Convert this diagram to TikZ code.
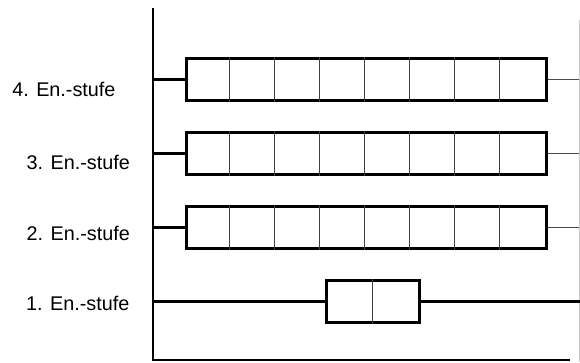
\documentclass[tikz,border=0pt]{standalone}
\usepackage{fontspec}
\setmainfont{Liberation Sans}
\begin{document}
\begin{tikzpicture}[x=1pt,y=-1pt,
  stage/.style={draw=black,line width=3pt,minimum height=42pt,inner sep=0pt,fill=white},
  cellline/.style={draw=black!75,line width=1.2pt},
  feed/.style={line width=2.5pt},
  tap/.style={draw=black!70,line width=1.3pt},
  axis/.style={line width=2.2pt},
  label/.style={anchor=base east,inner sep=0pt,font=\fontsize{19.8pt}{22pt}\selectfont}]
\useasboundingbox (0,0) rectangle (580,362);

% axes
\coordinate (top) at (153,8);
\coordinate (origin) at (153,360);
\coordinate (xend) at (570,360);
\coordinate (rtop) at (579,20);
\coordinate (rbot) at (579,362);
\draw[draw=black!22,line width=1pt] (rtop) -- (rbot);

% stages 2..4: eight cells each
\foreach \n/\y in {4/79.5,3/153.5,2/227.5}{
  \node[stage,minimum width=360pt] (b\n) at (366,\y) {};
  \foreach \k in {1,...,7}
    \draw[cellline] ([xshift=\k*45pt]b\n.north west) -- ([xshift=\k*45pt]b\n.south west);
  \coordinate (r\n) at (579,\y);
  \draw[feed] (top |- b\n.west) -- (b\n.west);
  \draw[tap] (b\n.east) -- (r\n);
}

% stage 1: two cells
\node[stage,minimum width=93pt] (b1) at (372.5,301.5) {};
\draw[cellline] (b1.north) -- (b1.south);
\coordinate (r1) at (580,301.5);
\draw[line width=2.2pt] (top |- b1.west) -- (b1.west);
\draw[line width=2.2pt] (b1.east) -- (r1);

\draw[axis] (top) -- (origin) -- (xend);

% labels
\node[label] (l4) at (115.7,96.7) {4. En.-stufe};
\node[label] (l3) at (130,169) {3. En.-stufe};
\node[label] (l2) at (130,240) {2. En.-stufe};
\node[label] (l1) at (129.5,310.7) {1. En.-stufe};
\end{tikzpicture}
\end{document}
